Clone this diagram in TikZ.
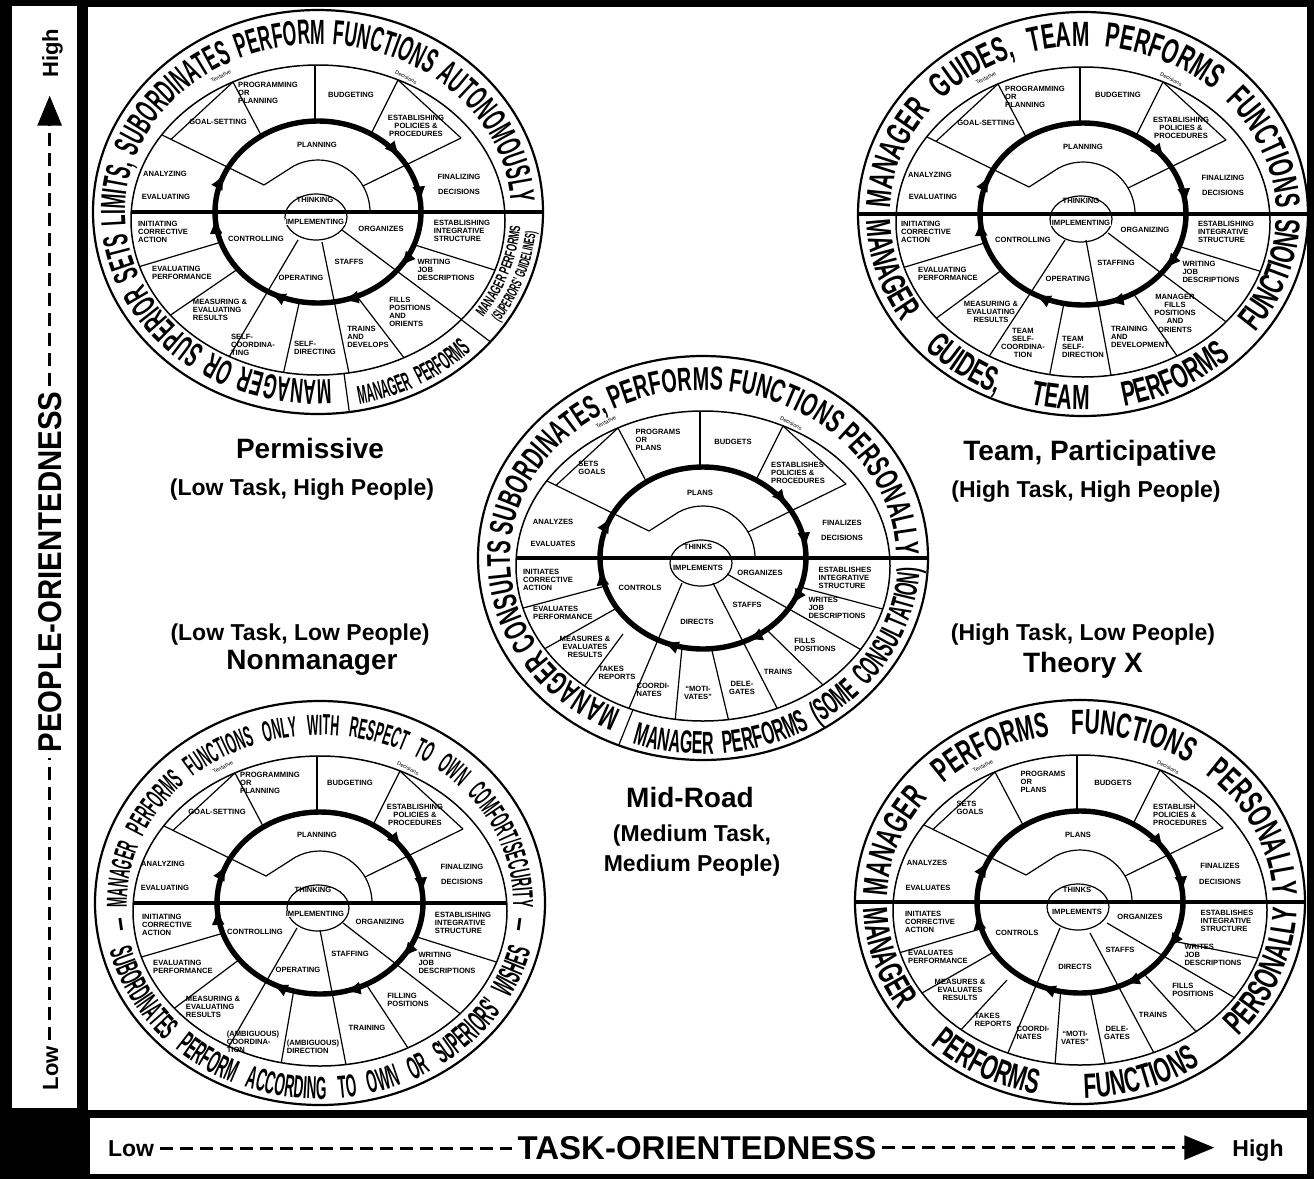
\documentclass[tikz,border=0pt]{standalone}
\usepackage{fontspec}
\setmainfont{Liberation Sans}
\newfontfamily\bandA[FakeStretch=0.5]{Liberation Sans}
\newfontfamily\bandB[FakeStretch=0.6]{Liberation Sans}
\newfontfamily\bandC[FakeStretch=0.42]{Liberation Sans}
\newfontfamily\axisfam[FakeStretch=0.89]{Liberation Sans}
\usetikzlibrary{calc,arrows.meta,decorations.text,decorations.markings}

\newcommand\lblfont{\bfseries\fontsize{7.6}{8.2}\selectfont}
\newcommand\notefont{\fontsize{5.5}{6}\selectfont}
\newcommand\rtip{\arrow{Latex[length=17pt,width=13pt]}}

\tikzset{
  rim/.style={line width=2.2pt},
  inrim/.style={line width=1.5pt},
  seg/.style={line width=1.2pt},
  midline/.style={line width=3.6pt},
  lbl/.style={font=\lblfont, align=center, inner sep=0.4pt},
  lbll/.style={lbl, align=left},
  lblw/.style={lbl, fill=white},
  note/.style={font=\notefont, inner sep=0pt},
  ringA/.style={line width=5.4pt, postaction={decorate}, decoration={markings,
    mark=at position 0.100 with {\rtip}, mark=at position 0.211 with {\rtip},
    mark=at position 0.333 with {\rtip}, mark=at position 0.492 with {\rtip},
    mark=at position 0.567 with {\rtip}, mark=at position 0.903 with {\rtip},
    mark=at position 0.986 with {\rtip}}},
  ringB/.style={line width=5.4pt, postaction={decorate}, decoration={markings,
    mark=at position 0.083 with {\rtip}, mark=at position 0.178 with {\rtip},
    mark=at position 0.319 with {\rtip}, mark=at position 0.483 with {\rtip},
    mark=at position 0.572 with {\rtip}, mark=at position 0.908 with {\rtip},
    mark=at position 0.986 with {\rtip}}},
  title/.style={font=\bfseries\fontsize{28}{30}\selectfont, inner sep=0pt},
  subtitle/.style={font=\bfseries\fontsize{23}{30}\selectfont, inner sep=0pt, align=center},
  axisword/.style={font=\bfseries\fontsize{23}{23}\selectfont, inner sep=6pt, anchor=base},
  axisdash/.style={line width=3pt, dash pattern=on 13pt off 7pt},
}

% one label inside a wheel, named after the wheel
\newcommand\wlab[4][lbl]{\node[#1] (\wid-#2) at (#3) {#4};}
% sector line from an inner point out to the band
\newcommand\segout[2]{\draw[seg] (#1) -- ($(#1)!1.3!(#2)$);}
% sector line from the ring out to the band
\newcommand\segboth[2]{\draw[seg] ($(#2)!1.4!(#1)$) -- ($(#1)!1.3!(#2)$);}
% band text, letters facing outwards
\newcommand\bandtop[5]{\path[decorate,decoration={text along path,
  text align={fit to path stretching spaces},
  text={|#1\bfseries\fontsize{#2}{#2}\selectfont|#5}}]
  (#3:193 and 168) arc[start angle=#3,end angle=#4,x radius=193,y radius=168];}
% band text, letters facing inwards
\newcommand\bandbot[5]{\path[decorate,decoration={text along path,
  text align={fit to path stretching spaces},
  text={|#1\bfseries\fontsize{#2}{#2}\selectfont|#5}}]
  (#3:217 and 196) arc[start angle=#3,end angle=#4,x radius=217,y radius=196];}
% centred band text on a given ellipse
\newcommand\bandline[7]{\path[decorate,decoration={text along path,
  text align=center,
  text={|#1\bfseries\fontsize{#2}{#2}\selectfont|#7}}]
  (#3:#5 and #6) arc[start angle=#3,end angle=#4,x radius=#5,y radius=#6];}
% divider across the band
\newcommand\banddiv[1]{\draw[seg] ($(0,8)+(#1:187 and 155)$) -- (#1:225 and 202);}

% clip regions: inside the band, and between the ring and the band
\newcommand\clipband{\clip (0,8) ellipse[x radius=187, y radius=155];}
\newcommand\clipring{\clip (0,8) ellipse[x radius=187, y radius=155] (0,0) ellipse[x radius=103, y radius=91];}

% parts shared by every wheel
\newcommand\wheelcore[1]{%
  \begin{scope}
    \clipband
    \draw[seg] (-54,-27) -- ($(-54,-27)!1.25!(-162,-80)$);
    \draw[seg] (-147,-72.6) -- ($(-147,-72.6)!1.15!(-85,-130)$);
    \draw[seg] (143,-74) -- ($(143,-74)!1.15!(80,-132)$);
    \draw[seg] (330:52) -- (143,-74);
    \draw[seg] (-54,-27) -- (242:52) arc[start angle=242, end angle=360, radius=52];
  \end{scope}
  \begin{scope}[even odd rule]
    \clipring
    \segboth{-57,-77}{-85,-130}
    \segboth{-3,-91}{-3,-147}
    \segboth{53,-78}{80,-132}
  \end{scope}
  \draw[#1] (0,0) ellipse[x radius=103, y radius=91];
  \draw[inrim] (0,8) ellipse[x radius=187, y radius=155];
  \draw[rim] (0,0) ellipse[x radius=225, y radius=202];
  \draw[seg] (-2,5) ellipse[x radius=31, y radius=23];
  \node[note, rotate=28] (\wid-tent) at (-97,-136) {Tentative};
  \node[note, rotate=-28] (\wid-dcs) at (88,-135) {Decisions};
}

\begin{document}
\begin{tikzpicture}[x=1pt,y=-1pt]
\useasboundingbox (0,0) rectangle (1314,1179);

% frame
\fill[black] (0,0) rectangle (1314,1179);
\fill[white] (12,6) rectangle (77,1108);
\fill[white] (88,7) rectangle (1307,1110);
\fill[white] (90,1118) rectangle (1307,1174);

% ---------------- Permissive (top left)
\begin{scope}[shift={(318,212)}]
\def\wid{tl}
\begin{scope}\clipband
  \segout{-20,28}{-86,140}
  \segout{4,30}{32,166}
  \segout{24,18}{147,110}
\end{scope}
\begin{scope}[even odd rule]\clipring
  \segboth{-100,31}{-180,55}
  \segboth{-86,61}{-143,100}
  \segboth{-20,96}{-35,163}
  \segboth{44,91}{90,151}
  \segboth{97,33}{167,55}
\end{scope}
\wheelcore{ringA}
\draw[midline] (-187,0) -- (225,0);
\banddiv{82}
\banddiv{40}
\bandtop{\bandA}{35}{86}{357}{MANAGER OR SUPERIOR SETS LIMITS, SUBORDINATES PERFORM FUNCTIONS AUTONOMOUSLY}
\bandbot{\bandC}{26}{79}{45}{MANAGER PERFORMS}
\bandline{\bandB}{15}{37}{3}{203}{181}{MANAGER PERFORMS}
\bandline{\bandA}{15}{37}{3}{219}{197}{(SUPERIORS' GUIDELINES)}
\wlab{goal}{-100,-90}{GOAL-SETTING}
\wlab[lbll]{prog}{-50,-119}{PROGRAMMING\\OR\\PLANNING}
\wlab{budg}{33,-117}{BUDGETING}
\wlab{poli}{98,-86}{ESTABLISHING\\POLICIES \&\\PROCEDURES}
\wlab{plan}{-1,-67}{PLANNING}
\wlab{anal}{-153,-38}{ANALYZING}
\wlab{eval}{-152,-15}{EVALUATING}
\wlab{fina}{141,-35}{FINALIZING}
\wlab{deci}{141,-20}{DECISIONS}
\wlab{thin}{-3,-12}{THINKING}
\wlab[lblw]{impl}{-3,10}{IMPLEMENTING}
\wlab{orga}{63,17}{ORGANIZES}
\wlab[lbll]{esta}{144,19}{ESTABLISHING\\INTEGRATIVE\\STRUCTURE}
\wlab[lbll]{init}{-155,20}{INITIATING\\CORRECTIVE\\ACTION}
\wlab{cont}{-62,27}{CONTROLLING}
\wlab[lbll]{evpe}{-136,61}{EVALUATING\\PERFORMANCE}
\wlab[lbll]{writ}{128,58}{WRITING\\JOB\\DESCRIPTIONS}
\wlab{staf}{31,50}{STAFFS}
\wlab{oper}{-17,66}{OPERATING}
\wlab[lbll]{meas}{-98,98}{MEASURING \&\\EVALUATING\\RESULTS}
\wlab[lbll]{fill}{92,100}{FILLS\\POSITIONS\\AND\\ORIENTS}
\wlab[lbll]{selc}{-65,133}{SELF-\\COORDINA-\\TING}
\wlab[lbll]{seld}{-3,136}{SELF-\\DIRECTING}
\wlab[lbll]{trai}{50,125}{TRAINS\\AND\\DEVELOPS}
\end{scope}

% ---------------- Team, Participative (top right)
\begin{scope}[shift={(1083,214)}]
\def\wid{tr}
\begin{scope}\clipband
  \segout{-18,26}{-93,141}
  \segout{3,26}{28,161}
  \segout{25,19}{138,104}
\end{scope}
\begin{scope}[even odd rule]\clipring
  \segboth{-105,31}{-178,53}
  \segboth{-88,61}{-145,103}
  \segboth{-20,94}{-33,159}
  \segboth{50,79}{92,139}
  \segboth{98,33}{173,56}
\end{scope}
\wheelcore{ringA}
\draw[midline] (-225,0) -- (225,0);
\bandtop{\bandB}{35}{182}{358}{MANAGER GUIDES, TEAM PERFORMS FUNCTIONS}
\bandbot{\bandB}{35}{178}{2}{MANAGER GUIDES, TEAM PERFORMS FUNCTIONS}
\wlab{goal}{-97,-91}{GOAL-SETTING}
\wlab[lbll]{prog}{-48,-117}{PROGRAMMING\\OR\\PLANNING}
\wlab{budg}{35,-119}{BUDGETING}
\wlab{poli}{98,-86}{ESTABLISHING\\POLICIES \&\\PROCEDURES}
\wlab{plan}{0,-67}{PLANNING}
\wlab{anal}{-153,-39}{ANALYZING}
\wlab{eval}{-150,-17}{EVALUATING}
\wlab{fina}{140,-36}{FINALIZING}
\wlab{deci}{140,-21}{DECISIONS}
\wlab{thin}{-2,-13}{THINKING}
\wlab[lblw]{impl}{-2,9}{IMPLEMENTING}
\wlab{orga}{62,16}{ORGANIZING}
\wlab[lbll]{esta}{143,18}{ESTABLISHING\\INTEGRATIVE\\STRUCTURE}
\wlab[lbll]{init}{-157,18}{INITIATING\\CORRECTIVE\\ACTION}
\wlab{cont}{-60,26}{CONTROLLING}
\wlab[lbll]{evpe}{-135,60}{EVALUATING\\PERFORMANCE}
\wlab[lbll]{writ}{128,58}{WRITING\\JOB\\DESCRIPTIONS}
\wlab{staf}{33,49}{STAFFING}
\wlab{oper}{-15,65}{OPERATING}
\wlab{meas}{-92,98}{MEASURING \&\\EVALUATING\\RESULTS}
\wlab{fill}{92,99}{MANAGER\\FILLS\\POSITIONS\\AND\\ORIENTS}
\wlab{selc}{-60,129}{TEAM\\SELF-\\COORDINA-\\TION}
\wlab[lbll]{seld}{0,133}{TEAM\\SELF-\\DIRECTION}
\wlab[lbll]{trai}{57,123}{TRAINING\\AND\\DEVELOPMENT}
\end{scope}

% ---------------- Mid-Road (centre)
\begin{scope}[shift={(703,558)}]
\def\wid{m}
\begin{scope}\clipband
  \segout{-80,76}{-120,130}
  \segout{-21,25}{-76,155}
  \segout{10,25}{74,150}
  \segout{24,16}{155,90}
\end{scope}
\begin{scope}[even odd rule]\clipring
  \segboth{-105,30}{-180,50}
  \segboth{-95,55}{-157,90}
  \segboth{-22,100}{-28,164}
  \segboth{10,97}{26,164}
  \segboth{67,75}{117,124}
  \segboth{97,29}{172,49}
\end{scope}
\wheelcore{ringB}
\draw[midline] (-187,0) -- (225,0);
\banddiv{112}
\bandtop{\bandB}{33}{115}{357}{MANAGER CONSULTS SUBORDINATES, PERFORMS FUNCTIONS PERSONALLY}
\bandbot{\bandA}{32}{109}{3}{MANAGER PERFORMS (SOME CONSULTATION)}
\wlab[lbll]{goal}{-111,-90}{SETS\\GOALS}
\wlab[lbll]{prog}{-45,-118}{PROGRAMS\\OR\\PLANS}
\wlab{budg}{30,-116}{BUDGETS}
\wlab[lbll]{poli}{95,-85}{ESTABLISHES\\POLICIES \&\\PROCEDURES}
\wlab{plan}{-3,-65}{PLANS}
\wlab{anal}{-150,-36}{ANALYZES}
\wlab{eval}{-150,-14}{EVALUATES}
\wlab{fina}{139,-35}{FINALIZES}
\wlab{deci}{139,-20}{DECISIONS}
\wlab{thin}{-5,-11}{THINKS}
\wlab[lblw]{impl}{-5,10}{IMPLEMENTS}
\wlab{orga}{57,15}{ORGANIZES}
\wlab[lbll]{esta}{142,20}{ESTABLISHES\\INTEGRATIVE\\STRUCTURE}
\wlab[lbll]{init}{-155,22}{INITIATES\\CORRECTIVE\\ACTION}
\wlab{cont}{-63,30}{CONTROLS}
\wlab[lbll]{evpe}{-140,55}{EVALUATES\\PERFORMANCE}
\wlab[lbll]{writ}{134,50}{WRITES\\JOB\\DESCRIPTIONS}
\wlab{staf}{44,47}{STAFFS}
\wlab{dire}{-6,64}{DIRECTS}
\wlab{meas}{-118,89}{MEASURES \&\\EVALUATES\\RESULTS}
\wlab[lbll]{fill}{112,87}{FILLS\\POSITIONS}
\wlab[lbll]{take}{-86,115}{TAKES\\REPORTS}
\wlab{trai}{75,114}{TRAINS}
\wlab[lbll]{coor}{-50,132}{COORDI-\\NATES}
\wlab{moti}{-5,135}{``MOTI-\\VATES''}
\wlab{dele}{39,130}{DELE-\\GATES}
\end{scope}

% ---------------- Nonmanager (bottom left)
\begin{scope}[shift={(320,903)}]
\def\wid{bl}
\begin{scope}\clipband
  \segout{-23,25}{-95,150}
  \segout{0,27}{27,167}
  \segout{23,20}{138,109}
\end{scope}
\begin{scope}[even odd rule]\clipring
  \segboth{-110,34}{-182,55}
  \segboth{-92,65}{-148,107}
  \segboth{-27,92}{-40,167}
  \segboth{48,84}{88,145}
  \segboth{97,34}{170,57}
\end{scope}
\wheelcore{ringA}
\draw[midline] (-187,0) -- (187,0);
\bandtop{\bandC}{29}{171}{369}{— MANAGER PERFORMS FUNCTIONS ONLY WITH RESPECT TO OWN COMFORT/SECURITY —}
\bandbot{\bandC}{32}{166}{14}{SUBORDINATES PERFORM ACCORDING TO OWN OR SUPERIORS' WISHES}
\wlab{goal}{-103,-91}{GOAL-SETTING}
\wlab[lbll]{prog}{-50,-120}{PROGRAMMING\\OR\\PLANNING}
\wlab{budg}{30,-120}{BUDGETING}
\wlab{poli}{95,-88}{ESTABLISHING\\POLICIES \&\\PROCEDURES}
\wlab{plan}{-3,-68}{PLANNING}
\wlab{anal}{-157,-39}{ANALYZING}
\wlab{eval}{-155,-15}{EVALUATING}
\wlab{fina}{142,-36}{FINALIZING}
\wlab{deci}{142,-21}{DECISIONS}
\wlab{thin}{-7,-13}{THINKING}
\wlab[lblw]{impl}{-5,11}{IMPLEMENTING}
\wlab{orga}{60,19}{ORGANIZING}
\wlab[lbll]{esta}{143,20}{ESTABLISHING\\INTEGRATIVE\\STRUCTURE}
\wlab[lbll]{init}{-153,22}{INITIATING\\CORRECTIVE\\ACTION}
\wlab{cont}{-65,29}{CONTROLLING}
\wlab[lbll]{evpe}{-137,64}{EVALUATING\\PERFORMANCE}
\wlab[lbll]{writ}{127,60}{WRITING\\JOB\\DESCRIPTIONS}
\wlab{staf}{30,51}{STAFFING}
\wlab{oper}{-22,67}{OPERATING}
\wlab[lbll]{meas}{-107,104}{MEASURING \&\\EVALUATING\\RESULTS}
\wlab[lbll]{fill}{88,97}{FILLING\\POSITIONS}
\wlab[lbll]{selc}{-67,139}{(AMBIGUOUS)\\COORDINA-\\TION}
\wlab[lbll]{seld}{-7,144}{(AMBIGUOUS)\\DIRECTION}
\wlab{trai}{47,125}{TRAINING}
\end{scope}

% ---------------- Theory X (bottom right)
\begin{scope}[shift={(1080,902)}]
\def\wid{br}
\begin{scope}\clipband
  \segout{-73,78}{-122,131}
  \segout{-20,26}{-75,158}
  \segout{10,31}{75,153}
  \segout{27,21}{150,93}
\end{scope}
\begin{scope}[even odd rule]\clipring
  \segboth{-110,30}{-178,50}
  \segboth{-95,55}{-158,91}
  \segboth{-20,98}{-25,163}
  \segboth{12,98}{25,161}
  \segboth{65,73}{112,125}
  \segboth{88,38}{172,55}
\end{scope}
\wheelcore{ringB}
\draw[midline] (-225,0) -- (225,0);
\bandtop{\bandB}{35}{182}{358}{MANAGER PERFORMS FUNCTIONS PERSONALLY}
\bandbot{\bandB}{35}{178}{2}{MANAGER PERFORMS FUNCTIONS PERSONALLY}
\wlab[lbll]{goal}{-110,-94}{SETS\\GOALS}
\wlab[lbll]{prog}{-37,-120}{PROGRAMS\\OR\\PLANS}
\wlab{budg}{33,-119}{BUDGETS}
\wlab[lbll]{poli}{100,-87}{ESTABLISH\\POLICIES \&\\PROCEDURES}
\wlab{plan}{-2,-67}{PLANS}
\wlab{anal}{-153,-39}{ANALYZES}
\wlab{eval}{-152,-14}{EVALUATES}
\wlab{fina}{140,-36}{FINALIZES}
\wlab{deci}{140,-20}{DECISIONS}
\wlab{thin}{-3,-12}{THINKS}
\wlab[lblw]{impl}{-3,10}{IMPLEMENTS}
\wlab{orga}{60,15}{ORGANIZES}
\wlab[lbll]{esta}{147,19}{ESTABLISHES\\INTEGRATIVE\\STRUCTURE}
\wlab[lbll]{init}{-150,20}{INITIATES\\CORRECTIVE\\ACTION}
\wlab{cont}{-63,31}{CONTROLS}
\wlab[lbll]{evpe}{-142,55}{EVALUATES\\PERFORMANCE}
\wlab[lbll]{writ}{133,53}{WRITES\\JOB\\DESCRIPTIONS}
\wlab{staf}{40,48}{STAFFS}
\wlab{dire}{-5,65}{DIRECTS}
\wlab{meas}{-120,88}{MEASURES \&\\EVALUATES\\RESULTS}
\wlab[lbll]{fill}{113,88}{FILLS\\POSITIONS}
\wlab[lbll]{take}{-87,118}{TAKES\\REPORTS}
\wlab{trai}{73,113}{TRAINS}
\wlab[lbll]{coor}{-47,131}{COORDI-\\NATES}
\wlab{moti}{-5,136}{``MOTI-\\VATES''}
\wlab{dele}{37,131}{DELE-\\GATES}
\end{scope}

% ---------------- style names
\node[title] (permissive) at (310,448) {Permissive};
\node[subtitle] (permissivesub) at (302,490) {(Low Task, High People)};
\node[title] (team) at (1090,453) {Team, Participative};
\node[subtitle] (teamsub) at (1086,492) {(High Task, High People)};
\node[subtitle] (nonmgrsub) at (300,635) {(Low Task, Low People)};
\node[title] (nonmgr) at (312,663) {Nonmanager};
\node[subtitle] (theoryxsub) at (1083,635) {(High Task, Low People)};
\node[title] (theoryx) at (1083,665) {Theory X};
\node[title] (midroad) at (690,797) {Mid-Road};
\node[subtitle] (midroadsub) at (692,851) {(Medium Task,\\Medium People)};

% ---------------- axes
\node[axisword] (taskLow) at (131,1156) {Low};
\node[axisword, font=\bfseries\fontsize{33}{33}\selectfont, inner sep=5pt] (taskAxis) at (697,1159) {TASK-ORIENTEDNESS};
\node[axisword] (taskHigh) at (1258,1156) {High};
\draw[axisdash] (taskLow.east) -- (taskLow.east -| taskAxis.west);
\draw[axisdash, -{Triangle[length=30pt,width=24pt]}, shorten >=12pt] (taskAxis.east) -- (taskAxis.east -| taskHigh.west);

\node[axisword, rotate=90, font=\bfseries\fontsize{22}{22}\selectfont] (peopleLow) at (58,1068) {Low};
\node[axisword, rotate=90, font=\axisfam\bfseries\fontsize{33}{33}\selectfont, inner sep=5pt] (peopleAxis) at (61,572) {PEOPLE-ORIENTEDNESS};
\node[axisword, rotate=90, font=\bfseries\fontsize{22}{22}\selectfont] (peopleHigh) at (58,53) {High};
\draw[axisdash] (peopleAxis.center |- peopleLow.east) -- (peopleAxis.center |- peopleAxis.west);
\draw[axisdash, -{Triangle[length=30pt,width=24pt]}, shorten >=12pt] (peopleAxis.center |- peopleAxis.east) -- (peopleAxis.center |- peopleHigh.west);
\end{tikzpicture}
\end{document}
